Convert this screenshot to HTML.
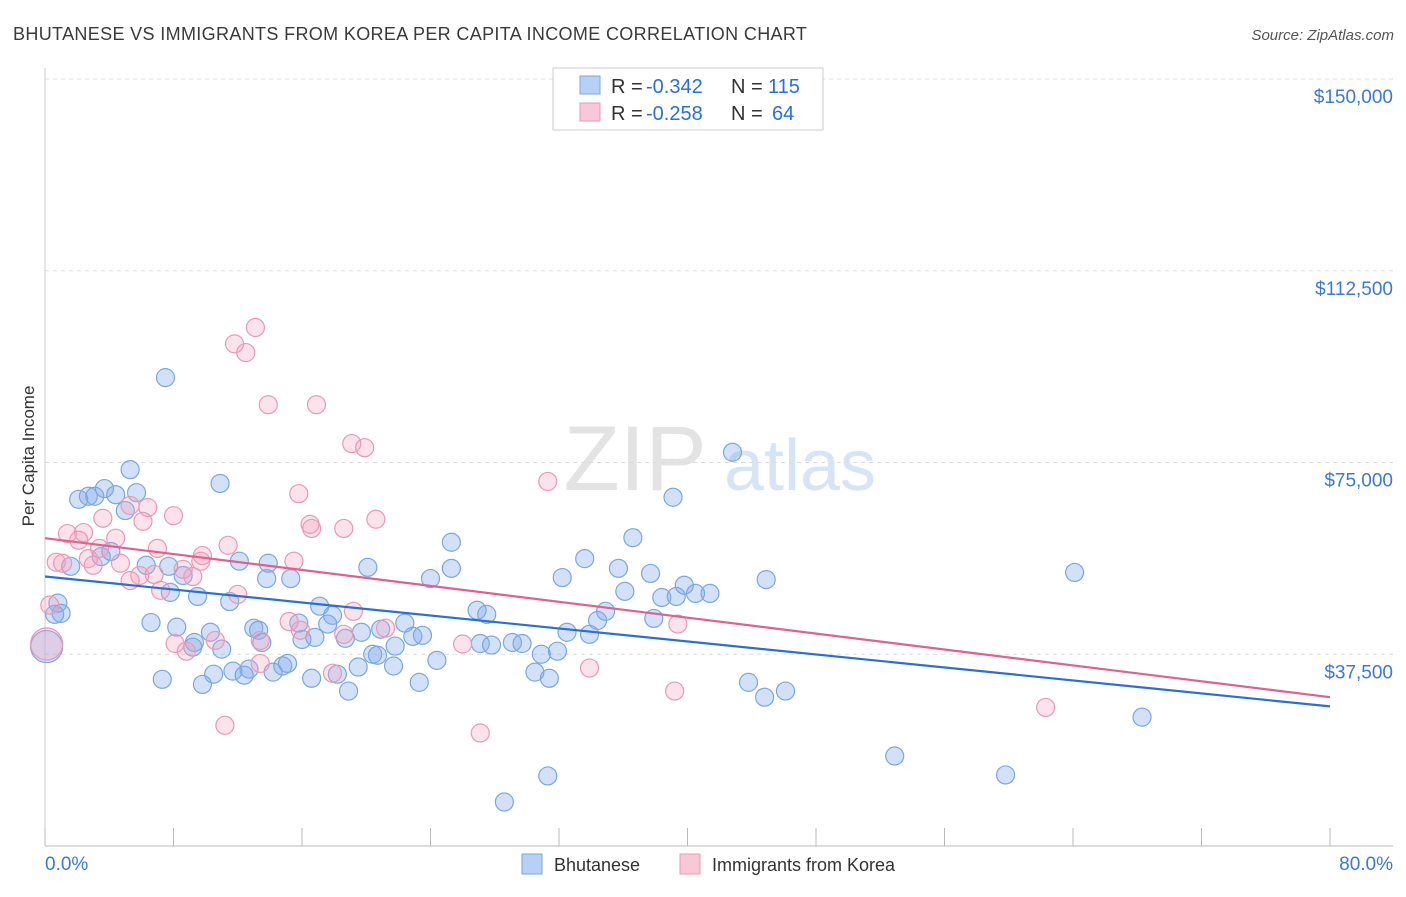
<!DOCTYPE html>
<html><head><meta charset="utf-8"><style>
body{margin:0;background:#fff;font-family:"Liberation Sans",sans-serif;}
svg text{font-family:"Liberation Sans",sans-serif;}
</style></head><body>
<svg id="chart" width="1406" height="892" viewBox="0 0 1406 892" xmlns="http://www.w3.org/2000/svg">
<text x="13" y="40" font-size="18" letter-spacing="0.35" fill="#3a3a3a">BHUTANESE VS IMMIGRANTS FROM KOREA PER CAPITA INCOME CORRELATION CHART</text>
<text x="1394" y="40" font-size="15" fill="#555" text-anchor="end" font-style="italic">Source: ZipAtlas.com</text>
<text transform="translate(34,456) rotate(-90)" font-size="17" fill="#333" text-anchor="middle">Per Capita Income</text>
<g>
<text x="635" y="490" font-size="92" fill="#e3e3e3" text-anchor="middle" font-family="Liberation Serif,serif">ZIP</text>
<text x="800" y="490" font-size="72" fill="#d6e4f5" text-anchor="middle">atlas</text>
</g>
<g id="grid"></g><g id="axes"></g><g id="pts"></g><g id="lines"></g>
<g>
<rect x="553" y="68" width="270" height="62" fill="#fff" stroke="#ccc"/>
<rect x="580" y="76" width="20" height="18" fill="#b8d0f3" stroke="#7ba7e0"/>
<rect x="580" y="103" width="20" height="18" fill="#f8c8d7" stroke="#e89ab5"/>
<text x="611" y="93" font-size="20" fill="#333">R =</text>
<text x="646" y="93" font-size="20" fill="#2b6fd6">-0.342</text>
<text x="731" y="93" font-size="20" fill="#333">N =</text>
<text x="768" y="93" font-size="20" fill="#2b6fd6">115</text>
<text x="611" y="120" font-size="20" fill="#333">R =</text>
<text x="646" y="120" font-size="20" fill="#2b6fd6">-0.258</text>
<text x="731" y="120" font-size="20" fill="#333">N =</text>
<text x="772" y="120" font-size="20" fill="#2b6fd6">64</text>
</g>
<g>
<rect x="522" y="854" width="20" height="20" fill="#b8d0f3" stroke="#7ba7e0"/>
<text x="554" y="871" font-size="18" fill="#333">Bhutanese</text>
<rect x="680" y="854" width="20" height="20" fill="#f8c8d7" stroke="#e89ab5"/>
<text x="712" y="871" font-size="18" fill="#333">Immigrants from Korea</text>
</g>
</svg>
<script>
const yTicks=[37500,75000,112500,150000];
const yTickLabels=["$37,500","$75,000","$112,500","$150,000"];
const xTickLabels=["0.0%","80.0%"];
const blueX=[7.5,42.8,5.3,10.9,3.7,2.1,2.7,3.1,4.4,5.7,5.0,39.1,25.3,36.6,33.6,3.5,4.1,1.6,6.3,7.7,12.1,13.9,15.3,13.8,20.1,25.3,24.0,32.2,35.7,37.7,39.8,41.4,44.9,64.1,0.8,1.0,0.6,9.5,11.5,7.8,8.6,17.1,17.9,26.9,27.5,34.9,34.4,36.1,37.9,38.4,39.3,40.5,6.6,8.2,10.3,13.0,13.3,15.8,16.0,17.6,16.8,18.7,19.7,20.9,22.4,22.9,23.5,27.1,27.8,29.1,29.7,30.9,31.9,32.5,33.9,11.0,9.2,10.5,11.7,12.7,12.4,14.2,14.8,15.1,16.6,18.2,19.5,20.4,20.7,21.7,24.4,23.3,30.5,31.4,7.3,9.8,18.9,43.8,44.8,46.1,68.3,52.9,59.8,31.3,28.6,9.3,13.5,21.8,0.1];
const blueY=[91.6,77.0,73.6,70.9,69.9,67.8,68.4,68.4,68.7,69.1,65.6,68.2,59.4,60.3,56.2,56.6,57.6,54.7,54.9,54.7,55.7,55.3,52.3,52.3,54.5,54.3,52.3,52.5,54.3,53.3,51.0,49.4,52.1,53.5,47.5,45.5,45.3,48.8,47.8,49.6,52.9,46.9,45.1,46.1,45.3,45.9,44.1,49.8,44.5,48.6,48.8,49.4,43.7,42.8,41.8,42.6,42.2,43.6,40.4,43.4,40.8,40.6,41.8,42.4,43.6,41.0,41.2,39.6,39.3,39.8,39.6,37.5,38.1,41.8,41.4,38.5,38.9,33.6,34.2,34.6,33.4,34.0,35.2,35.7,32.8,33.6,35.0,37.5,37.3,35.2,36.3,32.0,34.0,32.8,32.6,31.6,30.3,32.0,29.1,30.3,25.2,17.6,13.9,13.7,8.6,39.8,39.8,39.1,39.0];
const pinkX=[13.1,11.8,12.5,13.9,16.9,19.1,19.9,31.3,15.8,20.6,16.5,16.6,18.6,1.4,2.4,2.1,3.6,5.3,6.4,8.0,6.1,4.4,11.4,3.4,2.7,0.7,1.1,3.0,4.7,9.8,9.7,15.5,5.9,6.8,9.2,8.6,5.3,12.0,7.2,0.3,8.1,8.8,10.6,13.4,15.2,15.9,18.6,19.2,21.2,26.0,13.4,17.9,33.9,39.4,39.2,62.3,11.2,27.1,7.0,0.1];
const pinkY=[101.4,98.2,96.5,86.3,86.3,78.7,77.9,71.3,68.9,63.9,62.9,62.1,62.1,61.1,61.3,59.8,64.1,66.6,66.2,64.6,63.5,60.2,58.8,58.2,56.2,55.5,55.3,54.9,55.3,56.8,55.7,55.7,52.9,53.1,52.7,54.1,51.9,49.2,50.0,47.1,39.6,38.1,40.2,40.2,43.9,42.2,41.4,45.9,42.6,39.5,35.7,33.8,34.8,43.4,30.3,27.1,23.6,22.1,58.2,39.5];
const blueLine=[52.7,27.3];
const pinkLine=[60.2,29.1];
const lineX=[0,80];
const X0=45,X1=1330,YB=846,YT=79;
const xs=p=>X0+p*(X1-X0)/80;
const ys=v=>YB-v*(YB-YT)/150000;
const NS="http://www.w3.org/2000/svg";
function mk(tag,attrs,parent){const e=document.createElementNS(NS,tag);for(const k in attrs)e.setAttribute(k,attrs[k]);document.getElementById(parent).appendChild(e);return e;}
yTicks.forEach((t,i)=>{
 const g=mk('line',{x1:X0,x2:1393,y1:ys(t),y2:ys(t),stroke:'#ddd','stroke-dasharray':'4,4'},'grid');
 
 
 const l=mk('text',{x:1393,y:ys(t)+24,'font-size':19,fill:'#3b78d8','text-anchor':'end'},'axes');
 l.textContent=yTickLabels[i];
 
 
});
const ax=mk('line',{x1:X0,x2:1393,y1:YB,y2:YB,stroke:'#bbb'},'axes');


const yax=mk('line',{x1:X0,x2:X0,y1:68,y2:YB,stroke:'#ccc'},'axes');


for(let i=0;i<=10;i++){const t=mk('line',{x1:xs(i*8),x2:xs(i*8),y1:YB,y2:YB-18,stroke:'#bbb'},'axes');
 
 }
[[0,'start',45],[80,'end',1393]].forEach((d,i)=>{const l=mk('text',{x:d[2],y:870,'font-size':19,fill:'#3b78d8','text-anchor':d[1]},'axes');l.textContent=xTickLabels[i];
 
 });
function pts(X,Y,fill,stroke,name){X.forEach((x,i)=>{const big=x<0.2;const c=mk('circle',{cx:xs(x),cy:ys(Y[i]*1000),r:big?16:9,fill:fill,stroke:stroke,'stroke-width':1.2},'pts');
 
 });}
pts(blueX,blueY,'rgba(130,170,235,0.35)','#7ba7e0','bhutanese-point');
pts(pinkX,pinkY,'rgba(245,160,190,0.3)','#e89ab5','korea-point');
const bl=mk('line',{x1:xs(lineX[0]),x2:xs(lineX[1]),y1:ys(blueLine[0]*1000),y2:ys(blueLine[1]*1000),stroke:'#2b6fd6','stroke-width':2.2},'lines');


const pl=mk('line',{x1:xs(lineX[0]),x2:xs(lineX[1]),y1:ys(pinkLine[0]*1000),y2:ys(pinkLine[1]*1000),stroke:'#e0608e','stroke-width':2.2},'lines');


</script>
</body></html>
